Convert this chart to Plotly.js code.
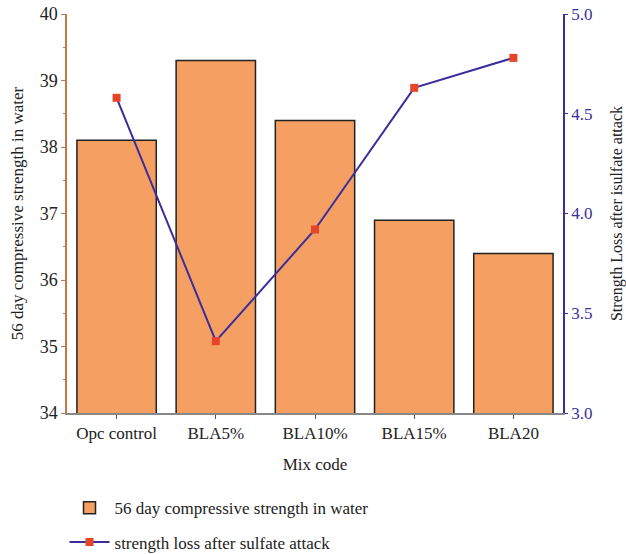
<!DOCTYPE html>
<html><head><meta charset="utf-8">
<script src="https://cdn.plot.ly/plotly-3.0.1.min.js"></script>
<style>body{margin:0;background:#fff}#c{width:626px;height:554px}</style>
</head><body><div id="c"></div>
<script>
const categories = ["Opc control", "BLA5%", "BLA10%", "BLA15%", "BLA20"];
const compressive = [38.1, 39.3, 38.4, 36.9, 36.4];
const strengthLoss = [4.58, 3.36, 3.92, 4.63, 4.78];

const serif = "Liberation Serif, Times New Roman, serif";
const data = [
  {type: "bar", x: categories, y: compressive, name: "56 day compressive strength in water", legendgroup: "a",
   marker: {color: "#f5a062", line: {color: "#222", width: 1.5}}, width: 0.8, yaxis: "y"},
  {type: "scatter", mode: "lines+markers", x: categories, y: strengthLoss, name: "strength loss after sulfate attack", legendgroup: "b",
   line: {color: "#3a2e9c", width: 2}, marker: {symbol: "square", color: "#e8442a", size: 8}, yaxis: "y2"}
];
const layout = {
  width: 626, height: 554,
  margin: {l: 67, r: 63, t: 14, b: 141},
  paper_bgcolor: "#fff", plot_bgcolor: "#fff",
  font: {family: serif, size: 17, color: "#222"},
  showlegend: true,
  bargap: 0.2,
  xaxis: {
    title: {text: "Mix code", font: {size: 17, color: "#222"}, standoff: 16},
    showline: true, linecolor: "#888", linewidth: 1.5,
    ticks: "outside", ticklen: 4, tickcolor: "#555",
    tickfont: {size: 17, color: "#222"}, showgrid: false, automargin: false
  },
  yaxis: {
    title: {text: "56 day compressive strength in water", font: {size: 17, color: "#222"}, standoff: 12},
    range: [34, 40], dtick: 1, showgrid: false, zeroline: false,
    showline: true, linecolor: "#c07a4a", linewidth: 1.5,
    ticks: "outside", ticklen: 4, tickcolor: "#c07a4a",
    minor: {dtick: 0.5, ticks: "outside", ticklen: 2, tickcolor: "#c07a4a"},
    tickfont: {size: 18, color: "#222"}, automargin: false
  },
  yaxis2: {
    title: {text: "Strength Loss after isulfate attack", font: {size: 16, color: "#222"}, standoff: 22},
    overlaying: "y", side: "right",
    range: [3.0, 5.0], dtick: 0.5, tickformat: ".1f", showgrid: false, zeroline: false,
    showline: true, linecolor: "#3a2e9c", linewidth: 1.5,
    ticks: "outside", ticklen: 3, tickcolor: "#3a2e9c",
    tickfont: {size: 17, color: "#3a2e9c"}, automargin: false
  },
  legend: {x: -0.005, xanchor: "left", yref: "container", y: 0.115, yanchor: "top", orientation: "v",
    traceorder: "grouped", font: {size: 17, color: "#222"}, tracegroupgap: 9, itemwidth: 40}
};
Plotly.newPlot("c", data, layout, {displayModeBar: false});
</script></body></html>
